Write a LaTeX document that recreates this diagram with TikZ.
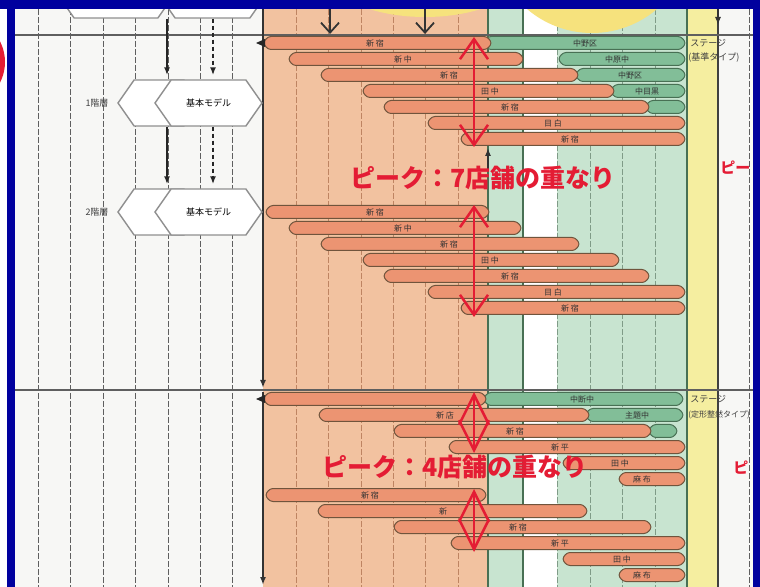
\documentclass[tikz,border=0pt]{standalone}
\usepackage{fontspec}
\newfontfamily\jp{Noto Sans CJK JP}
\usetikzlibrary{arrows.meta,positioning,shapes.symbols}
\definecolor{FrameBlue}{RGB}{0,0,158}
\definecolor{PaperWhite}{RGB}{247,247,245}
\definecolor{ZoneOrange}{RGB}{242,194,160}
\definecolor{ZoneGreen}{RGB}{200,228,208}
\definecolor{ZoneYellow}{RGB}{245,238,160}
\definecolor{BlobYellow}{RGB}{246,226,125}
\definecolor{BarOrange}{RGB}{236,148,114}
\definecolor{BarGreen}{RGB}{130,190,152}
\definecolor{BarEdge}{RGB}{112,84,60}
\definecolor{GreenEdge}{RGB}{72,112,84}
\definecolor{ColEdge}{RGB}{190,132,98}
\definecolor{GridGray}{RGB}{95,95,95}
\definecolor{MarkRed}{RGB}{228,28,52}

\tikzset{
  colline/.style={GridGray,line width=0.5pt,dash pattern=on 3pt off 1pt},
  hexbox/.style={draw=GridGray!70,line width=0.7pt,fill=white,shape=signal,
    signal to=west and east,signal pointer angle=110,minimum height=23pt,
    inner sep=0pt,font=\jp\fontsize{4.5}{5}\selectfont},
  orangebar/.style={draw=BarEdge,line width=0.5pt,fill=BarOrange,rounded corners=1.5pt},
  greenbar/.style={draw=GreenEdge,line width=0.5pt,fill=BarGreen,rounded corners=1.5pt},
  barlabel/.style={font=\jp\fontsize{4}{4}\selectfont,text=black!80,inner sep=0pt},
  sidelabel/.style={font=\jp\fontsize{4.5}{5}\selectfont,text=black!75,inner sep=0pt,anchor=west},
  peak/.style={draw=MarkRed,line width=1.25pt,<->,>={Straight Barb[length=10pt,width=14pt]}},
  peakd/.style={peak,>={Straight Barb[length=15pt,width=15pt]}},
  peaktext/.style={font=\jp\bfseries\fontsize{12.5}{13}\selectfont,text=MarkRed,inner sep=0pt,anchor=west},
}

\begin{document}
\begin{tikzpicture}[x=0.5pt,y=-0.5pt,>={Latex[length=4pt,width=3pt]}]
\useasboundingbox (0,0) rectangle (760,587);
\fill[white] (0,0) rectangle (760,587);
\begin{scope}
\clip (15,9) rectangle (753,587);
% zones
\fill[PaperWhite] (15,9) rectangle (263,587);
\fill[ZoneOrange] (263,9) rectangle (488,587);
\fill[ZoneGreen] (488,9) rectangle (523,587);
\fill[white] (523,9) rectangle (557,587);
\fill[ZoneGreen] (557,9) rectangle (687,587);
\fill[ZoneYellow] (687,9) rectangle (718,587);
\fill[PaperWhite] (718,9) rectangle (753,587);
% grid
\foreach \x in {38,70,103,135,168,200,232,749}
  \draw[colline] (\x,9) -- (\x,587);
\foreach \x in {296,328,361,393,425,458}
  \draw[ColEdge,line width=0.5pt,dash pattern=on 3pt off 1pt] (\x,9) -- (\x,587);
\foreach \x in {557,590,622,655}
  \draw[GreenEdge!70,line width=0.5pt,dash pattern=on 3pt off 1pt] (\x,9) -- (\x,587);
\foreach \x in {488,523,687}
  \draw[GreenEdge,line width=0.6pt] (\x,9) -- (\x,587);
\draw[black!75,line width=0.7pt] (718,9) -- (718,587);
\fill[BlobYellow] (592,-67) circle (100);
\fill[BlobYellow] (425,-25) ellipse [x radius=95,y radius=42];
\draw[GridGray,line width=0.7pt] (15,35) -- (753,35);
\draw[GridGray,line width=0.7pt] (15,390) -- (753,390);
\draw[black!80,line width=0.8pt,->] (263,9) -- (263,388);
\draw[black!80,line width=0.8pt,->] (263,392) -- (263,585);
\draw[black!80,line width=0.6pt,->] (718,9) -- (718,25);
\draw[black!80,line width=0.6pt,->] (488,170) -- (488,148);
% top arrows
\coordinate (v1) at (330,9);
\coordinate (v2) at (425,9);
\draw[black!80,line width=0.9pt,->,>={Straight Barb[length=5pt,width=9pt]}] (v1) -- ++(0,25);
\draw[black!80,line width=0.9pt,->,>={Straight Barb[length=5pt,width=9pt]}] (v2) -- ++(0,25);

% model steps
\node[hexbox,minimum width=58pt] (hexA0) at (116,-5) {};
\node[hexbox,minimum width=53.5pt] (hexB0) at (212.5,-5) {};
\node[hexbox,minimum width=41pt] (hexA1) at (159,103) {};
\node[hexbox,minimum width=53.5pt] (hexB1) at (208.5,103) {基本モデル};
\node[hexbox,minimum width=41pt] (hexA2) at (159,212) {};
\node[hexbox,minimum width=53.5pt] (hexB2) at (208.5,212) {基本モデル};
\node[sidelabel,anchor=center] (lvl1) at (97,103) {1階層};
\node[sidelabel,anchor=center] (lvl2) at (97,212) {2階層};
\coordinate (sx) at (167,0);
\coordinate (dx) at (213,0);
\draw[black!85,line width=0.8pt,->,shorten >=2pt] (hexB0.south -| sx) -- (hexB1.north -| sx);
\draw[black!85,line width=0.8pt,->,shorten >=2pt] (hexB1.south -| sx) -- (hexB2.north -| sx);
\draw[black!85,line width=0.8pt,dash pattern=on 2pt off 1.5pt,->,shorten >=2pt] (hexB0.south -| dx) -- (hexB1.north -| dx);
\draw[black!85,line width=0.8pt,dash pattern=on 2pt off 1.5pt,->,shorten >=2pt] (hexB1.south -| dx) -- (hexB2.north -| dx);

% green bars
\foreach \xa/\xb/\yy in {483/686/43,558/686/59,575/686/75,610/686/91,645/686/107,
    483/684/399,585/684/415,648/678/431}
  \draw[greenbar] (\xa,\yy) -- (\xa+5,\yy-6.5) -- (\xb-5,\yy-6.5) -- (\xb,\yy)
    -- (\xb-5,\yy+6.5) -- (\xa+5,\yy+6.5) -- cycle;
% orange bars
\foreach \xa/\xb/\yy in {263/492/43,288/524/59,320/579/75,362/615/91,383/650/107,427/686/123,460/686/139,
    265/490/212,288/522/228,320/580/244,362/620/260,383/650/276,427/686/292,460/686/308,
    263/487/399,318/590/415,393/652/431,448/686/447,562/686/463,618/686/479,
    265/487/495,317/588/511,393/652/527,450/686/543,562/686/559,618/686/575}
  \draw[orangebar] (\xa,\yy) -- (\xa+5,\yy-6.5) -- (\xb-5,\yy-6.5) -- (\xb,\yy)
    -- (\xb-5,\yy+6.5) -- (\xa+5,\yy+6.5) -- cycle;
\fill[black!85] (256,43) -- (265,39) -- (265,47) -- cycle;
\fill[black!85] (256,399) -- (265,395) -- (265,403) -- cycle;
% bar labels
\foreach \lx/\yy/\lab in {375/43/新 宿,403/59/新 中,449/75/新 宿,490/91/田 中,510/107/新 宿,553/123/目 白,570/139/新 宿,
    375/212/新 宿,403/228/新 中,449/244/新 宿,490/260/田 中,510/276/新 宿,553/292/目 白,570/308/新 宿,
    445/415/新 店,515/431/新 宿,560/447/新 平,620/463/田 中,642/479/麻 布,
    370/495/新 宿,443/511/新,518/527/新 宿,560/543/新 平,622/559/田 中,642/575/麻 布}
  \node[barlabel] (bl-\yy) at (\lx,\yy) {\lab};
\foreach \lx/\yy/\lab in {585/43/中野区,617/59/中原中,630/75/中野区,647/91/中目黒,
    582/399/中断中,637/415/主題中}
  \node[barlabel] (gl-\yy) at (\lx,\yy) {\lab};
\node[sidelabel] (stage1) at (690,43) {ステージ};
\node[sidelabel] (type1) at (688,58) {(基準タイプ)};
\node[sidelabel] (stage2) at (690,399) {ステージ};
\node[sidelabel,font=\jp\fontsize{4}{5}\selectfont] (type2) at (688,415) {(定形整然タイプ)};

% peaks
\coordinate (pk1a) at (474,37);
\coordinate (pk1b) at (474,147);
\coordinate (pk2a) at (474,205);
\coordinate (pk2b) at (474,317);
\coordinate (pk3a) at (474,392);
\coordinate (pk3b) at (474,453);
\coordinate (pk4a) at (474,489);
\coordinate (pk4b) at (474,552);
\draw[peak] (pk1a) -- (pk1b);
\draw[peak] (pk2a) -- (pk2b);
\draw[peakd] (pk3a) -- (pk3b);
\draw[peakd] (pk4a) -- (pk4b);
\node[peaktext] (peak7) at (350,178) {ピーク：7店舗の重なり};
\node[peaktext] (peak4) at (322,467) {ピーク：4店舗の重なり};
\node[peaktext,font=\jp\bfseries\fontsize{7.5}{8}\selectfont] (peakR1) at (720,168) {ピー};
\node[peaktext,font=\jp\bfseries\fontsize{7.5}{8}\selectfont] (peakR2) at (733,468) {ピ};
\end{scope}
% frame
\fill[MarkRed] (-40,62) circle (45);
\fill[FrameBlue] (0,0) rectangle (760,9);
\fill[FrameBlue] (7,0) rectangle (15,587);
\fill[FrameBlue] (753,0) rectangle (760,587);
\end{tikzpicture}
\end{document}
